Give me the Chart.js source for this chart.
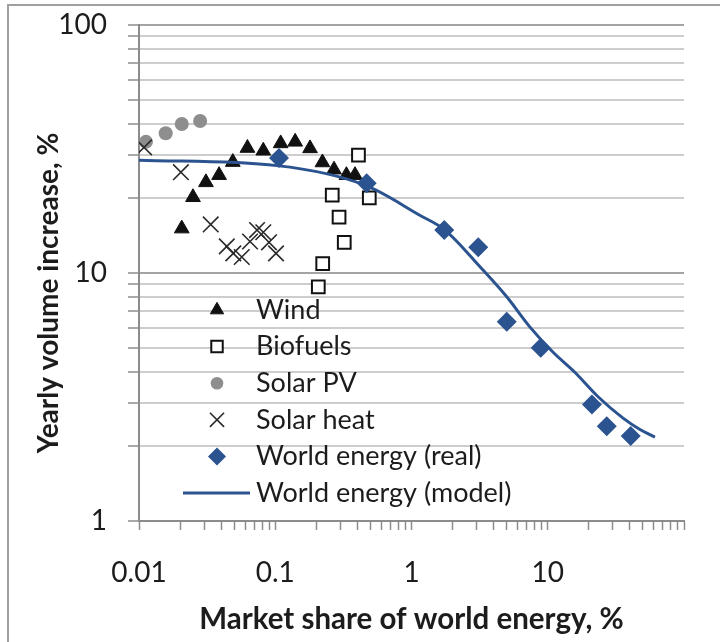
<!DOCTYPE html>
<html>
<head>
<meta charset="utf-8">
<script src="https://cdn.jsdelivr.net/npm/chart.js@4/dist/chart.umd.min.js"></script>
<style>
  html, body { margin: 0; padding: 0; background: #ffffff; }
  canvas { display: block; }
</style>
</head>
<body>
<canvas id="growth" width="720" height="642"></canvas>
<script>
// Market share (%) vs yearly volume increase (%) for each energy source
const windShare = [0.0206, 0.0249, 0.0310, 0.0387, 0.0488, 0.0625, 0.0817, 0.1096, 0.140, 0.180, 0.222, 0.270, 0.333, 0.385];
const windGrowth = [15.1, 20.2, 23.2, 24.8, 28.0, 31.9, 31.1, 33.3, 33.8, 31.8, 27.9, 26.1, 24.8, 24.8];

const biofuelShare = [0.207, 0.223, 0.262, 0.294, 0.321, 0.408, 0.490];
const biofuelGrowth = [8.8, 10.9, 20.6, 16.8, 13.3, 29.9, 20.1];

const solarPvShare = [0.01125, 0.0157, 0.0206, 0.0281];
const solarPvGrowth = [33.8, 36.6, 39.9, 41.0];

const solarHeatShare = [0.0109, 0.0203, 0.0336, 0.0441, 0.0492, 0.0568, 0.0653, 0.0735, 0.0817, 0.090, 0.1013];
const solarHeatGrowth = [32.1, 25.5, 15.7, 12.8, 12.0, 11.6, 13.4, 14.9, 14.6, 13.3, 12.0];

const worldRealShare = [0.1065, 0.469, 1.74, 3.09, 5.0, 8.88, 21.1, 27.1, 40.6];
const worldRealGrowth = [29.1, 23.0, 14.9, 12.7, 6.36, 4.99, 2.95, 2.41, 2.20];

const worldModelShare = [0.01, 0.103, 0.456, 1.15, 1.76, 3.18, 5.0, 7.41, 10.9, 15.8, 23.4, 35.7, 47.5, 61.2];
const worldModelGrowth = [28.5, 27.1, 22.6, 17.1, 14.9, 10.6, 8.02, 6.05, 4.80, 3.98, 3.17, 2.60, 2.34, 2.18];

// Axis tick labels (only decades are labelled)
const xTickLabels = ['0.01', '0.1', '1', '10'];
const yTickLabels = ['1', '10', '100'];

const seriesNames = ['Wind', 'Biofuels', 'Solar PV', 'Solar heat', 'World energy (real)', 'World energy (model)'];

const BLUE = '#2b5390';
const TEXT = '#1c1c1c';
const AXIS = '#8c8c8c';
const FONT = 'Lato, "Open Sans", sans-serif';

// 1..9 per decade between 10^lo and 10^hi
function logTicks(lo, hi) {
  const t = [];
  for (let e = lo; e < hi; e++) {
    for (let m = 1; m < 10; m++) t.push(Number((m * Math.pow(10, e)).toPrecision(2)));
  }
  t.push(Number(Math.pow(10, hi).toPrecision(2)));
  return t;
}
const isDecade = v => Math.abs(Math.log10(v) - Math.round(Math.log10(v))) < 1e-9;

const pts = (xs, ys) => xs.map((x, i) => ({ x: x, y: ys[i] }));

const datasets = [
  { label: seriesNames[0], data: pts(windShare, windGrowth), pointStyle: 'triangle', pointRadius: 8.5,
    backgroundColor: '#111111', borderColor: '#111111', borderWidth: 1, order: 4 },
  { label: seriesNames[1], data: pts(biofuelShare, biofuelGrowth), pointStyle: 'rect', pointRadius: 9,
    backgroundColor: '#ffffff', borderColor: '#111111', borderWidth: 2, order: 3 },
  { label: seriesNames[2], data: pts(solarPvShare, solarPvGrowth), pointStyle: 'circle', pointRadius: 7,
    backgroundColor: '#8e8e8e', borderColor: '#8e8e8e', borderWidth: 0, order: 6 },
  { label: seriesNames[3], data: pts(solarHeatShare, solarHeatGrowth), pointStyle: 'crossRot', pointRadius: 11,
    backgroundColor: '#2a2a2a', borderColor: '#2a2a2a', borderWidth: 1.6, order: 5 },
  { label: seriesNames[4], data: pts(worldRealShare, worldRealGrowth), pointStyle: 'rectRot', pointRadius: 10,
    backgroundColor: BLUE, borderColor: BLUE, borderWidth: 0, order: 1 },
  { label: seriesNames[5], data: pts(worldModelShare, worldModelGrowth), showLine: true, pointRadius: 0,
    borderColor: BLUE, backgroundColor: BLUE, borderWidth: 3, cubicInterpolationMode: 'monotone', order: 2 }
];

// Outer frame + white background
const framePlugin = {
  id: 'frame',
  beforeDraw(chart) {
    const ctx = chart.ctx;
    ctx.save();
    ctx.fillStyle = '#ffffff';
    ctx.fillRect(0, 0, chart.width, chart.height);
    ctx.strokeStyle = '#a0a0a0';
    ctx.lineWidth = 2;
    ctx.beginPath();
    ctx.moveTo(8, chart.height);
    ctx.lineTo(8, 5);
    ctx.lineTo(chart.width, 5);
    ctx.stroke();
    ctx.restore();
  }
};

// Legend inside the plot area, and the rotated y-axis title
const overlayPlugin = {
  id: 'overlay',
  afterDraw(chart) {
    const ctx = chart.ctx;
    const helpers = Chart.helpers;
    const markerX = 217, textX = 256, firstY = 310, step = 36.6;
    ctx.save();
    chart.data.datasets.forEach((ds, i) => {
      const y = firstY + i * step;
      if (ds.showLine) {
        ctx.strokeStyle = ds.borderColor;
        ctx.lineWidth = 3;
        ctx.beginPath();
        ctx.moveTo(183, y);
        ctx.lineTo(250, y);
        ctx.stroke();
      } else {
        ctx.fillStyle = ds.backgroundColor;
        ctx.strokeStyle = ds.borderColor;
        ctx.lineWidth = ds.borderWidth;
        const r = ds.pointStyle === 'crossRot' ? 10 : ds.pointRadius * 0.9;
        helpers.drawPoint(ctx, { pointStyle: ds.pointStyle, radius: r, rotation: 0, borderWidth: ds.borderWidth }, markerX, y);
      }
      ctx.fillStyle = TEXT;
      ctx.font = '27px ' + FONT;
      ctx.textAlign = 'left';
      ctx.textBaseline = 'middle';
      ctx.fillText(ds.label, textX, y);
    });
    ctx.translate(48.5, 293);
    ctx.rotate(-Math.PI / 2);
    ctx.font = 'bold 28px ' + FONT;
    ctx.textAlign = 'center';
    ctx.textBaseline = 'middle';
    ctx.fillStyle = TEXT;
    ctx.fillText('Yearly volume increase, %', 0, 0);
    ctx.restore();
  }
};

new Chart(document.getElementById('growth'), {
  type: 'scatter',
  data: { datasets: datasets },
  plugins: [framePlugin, overlayPlugin],
  options: {
    responsive: false,
    animation: false,
    devicePixelRatio: 1,
    layout: { padding: { left: 0, top: 25, right: 36, bottom: 0 } },
    plugins: { legend: { display: false }, tooltip: { enabled: false } },
    scales: {
      x: {
        type: 'logarithmic',
        min: 0.01,
        max: 100,
        afterBuildTicks: s => { s.ticks = logTicks(-2, 2).map(v => ({ value: v })); },
        afterFit: s => { s.height = 121; },
        ticks: {
          autoSkip: false,
          maxRotation: 0,
          padding: 26,
          color: TEXT,
          font: { family: FONT, size: 28 },
          callback: v => (xTickLabels.includes(String(v)) ? String(v) : '')
        },
        grid: { drawOnChartArea: false, drawTicks: true, tickLength: 9, tickColor: AXIS, tickWidth: 1.5 },
        border: { display: true, color: AXIS, width: 2 },
        title: {
          display: true,
          text: 'Market share of world energy, %',
          color: TEXT,
          font: { family: FONT, size: 29.5, weight: 'bold' },
          padding: { top: 0, bottom: 5 }
        }
      },
      y: {
        type: 'logarithmic',
        min: 1,
        max: 100,
        afterBuildTicks: s => { s.ticks = logTicks(0, 2).map(v => ({ value: v })); },
        afterFit: s => { s.width = 139; s.paddingTop = 0; s.paddingBottom = 0; },
        ticks: {
          autoSkip: false,
          padding: 21,
          color: TEXT,
          font: { family: FONT, size: 28 },
          callback: v => (yTickLabels.includes(String(v)) ? String(v) : '')
        },
        grid: {
          drawOnChartArea: true,
          drawTicks: true,
          tickLength: 11,
          tickColor: AXIS,
          tickWidth: 1.5,
          lineWidth: 2,
          color: c => (c.tick && isDecade(c.tick.value) ? '#a4a4a4' : '#cdcdcd')
        },
        border: { display: true, color: AXIS, width: 2 }
      }
    }
  }
});
</script>
</body>
</html>
